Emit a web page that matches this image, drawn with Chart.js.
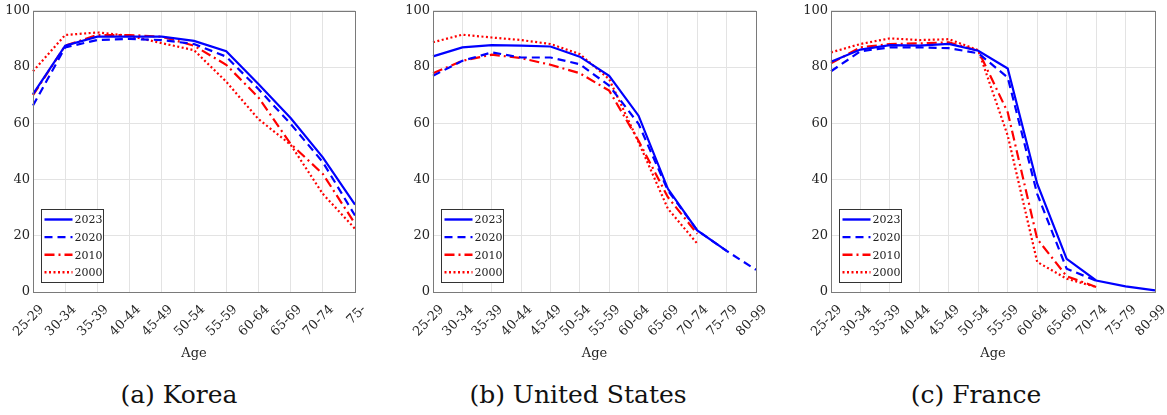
<!DOCTYPE html>
<html>
<head>
<meta charset="utf-8">
<script src="https://cdn.jsdelivr.net/npm/chart.js@4.4.0/dist/chart.umd.min.js"></script>
<style>
  body { margin: 0; background: #fff; width: 1167px; height: 415px; position: relative; overflow: hidden; }
  .panel { position: absolute; top: 0; height: 365px; }
  .cap { position: absolute; top: 380px; font-family: "DejaVu Serif", serif; font-size: 25px; color: #111; text-align: center; white-space: nowrap; }
</style>
</head>
<body>
<div class="panel" style="left:0px;width:370px"><canvas id="korea"></canvas></div>
<div class="panel" style="left:395px;width:375px"><canvas id="us"></canvas></div>
<div class="panel" style="left:790px;width:377px"><canvas id="france"></canvas></div>
<div class="cap" style="left:79px;width:200px">(a) Korea</div>
<div class="cap" style="left:428px;width:300px">(b) United States</div>
<div class="cap" style="left:876px;width:200px">(c) France</div>
<script>
// age groups
const ageKorea = ['25-29', '30-34', '35-39', '40-44', '45-49', '50-54', '55-59', '60-64', '65-69', '70-74', '75-'];
const ageLong = ['25-29', '30-34', '35-39', '40-44', '45-49', '50-54', '55-59', '60-64', '65-69', '70-74', '75-79', '80-99'];
const years = ['2023', '2020', '2010', '2000'];
const yTicks = [0, 20, 40, 60, 80, 100];

// Korea
const korea2023 = [70.4, 87.6, 90.8, 90.8, 90.8, 89.3, 85.6, 74.0, 61.9, 47.9, 31.1];
const korea2020 = [66.3, 87.0, 89.6, 90.0, 89.6, 88.2, 83.7, 72.2, 59.8, 46.2, 27.2];
const korea2010 = [70.0, 87.6, 91.4, 91.4, 90.8, 87.6, 80.8, 69.2, 52.7, 42.0, 24.3];
const korea2000 = [78.5, 91.4, 92.3, 91.1, 88.5, 86.0, 74.8, 61.5, 52.4, 34.9, 22.5];

// United States
const us2023 = [83.8, 87.0, 87.8, 87.6, 87.3, 83.7, 76.9, 62.7, 36.7, 21.9, 14.6, null];
const us2020 = [76.9, 82.2, 85.2, 83.4, 83.4, 81.0, 73.4, 59.8, 36.1, 21.9, 14.6, 7.9];
const us2010 = [77.8, 82.2, 84.4, 83.2, 80.8, 77.8, 71.6, 53.8, 33.7, 20.7, null, null];
const us2000 = [88.8, 91.5, 90.5, 89.6, 88.2, 84.6, 75.7, 53.3, 29.6, 17.2, null, null];

// France
const france2023 = [81.9, 86.2, 87.8, 87.6, 88.2, 85.8, 79.5, 38.5, 11.8, 4.1, 2.0, 0.6];
const france2020 = [78.5, 85.6, 87.0, 87.0, 86.7, 84.9, 76.3, 34.9, 8.3, 4.0, null, null];
const france2010 = [81.3, 87.0, 88.2, 88.4, 88.8, 85.8, 63.9, 18.9, 5.6, 1.8, null, null];
const france2000 = [85.2, 88.2, 90.2, 89.6, 89.9, 86.0, 55.6, 10.7, 4.7, 1.8, null, null];

const lineColors = ['#0000ff', '#0000ff', '#ff0000', '#ff0000'];
const lineDashes = [[], [8, 5], [10, 4, 2, 4], [2, 2.5]];
const serif = '"DejaVu Serif", serif';

// axes box + legend inside lower left
const boxAndLegend = {
  id: 'boxAndLegend',
  afterDraw(chart) {
    const c = chart.ctx;
    const a = chart.chartArea;
    c.save();
    c.strokeStyle = '#7a7a7a';
    c.lineWidth = 1;
    c.strokeRect(Math.round(a.left) + 0.5, Math.round(a.top) + 0.5, Math.round(a.right - a.left), Math.round(a.bottom - a.top));

    const lx = Math.round(a.left + 8) + 0.5;
    const ly = Math.round(a.bottom - 83) + 0.5;
    c.fillStyle = '#fff';
    c.fillRect(lx, ly, 62, 73);
    c.strokeStyle = '#333';
    c.strokeRect(lx, ly, 62, 73);
    c.font = '11px ' + serif;
    c.textBaseline = 'middle';
    chart.data.datasets.forEach((ds, i) => {
      const yy = ly + 10 + i * 17.6;
      c.beginPath();
      c.setLineDash(ds.borderDash);
      c.strokeStyle = ds.borderColor;
      c.lineWidth = 2.4;
      c.moveTo(lx + 3, yy);
      c.lineTo(lx + 31, yy);
      c.stroke();
      c.setLineDash([]);
      c.fillStyle = '#222';
      c.fillText(ds.label, lx + 33, yy + 1);
    });
    c.restore();
  }
};

function makePanel(id, labels, series, yWidth, rightPad) {
  new Chart(document.getElementById(id), {
    type: 'line',
    data: {
      labels: labels,
      datasets: series.map((s, i) => ({
        label: years[i],
        data: s,
        borderColor: lineColors[i],
        borderDash: lineDashes[i],
        borderWidth: 2.2,
        pointRadius: 0,
        tension: 0,
        fill: false,
        spanGaps: false
      }))
    },
    options: {
      animation: false,
      responsive: true,
      maintainAspectRatio: false,
      layout: { padding: { top: 10, right: rightPad, left: 0, bottom: 0 } },
      plugins: { legend: { display: false }, tooltip: { enabled: false } },
      scales: {
        x: {
          offset: false,
          grid: { color: '#e3e3e3', drawTicks: false },
          border: { display: false },
          ticks: { font: { family: serif, size: 13 }, color: '#262626', minRotation: 45, maxRotation: 45, padding: 10, labelOffset: 9, autoSkip: false },
          title: { display: true, text: 'Age', font: { family: serif, size: 13 }, color: '#262626', padding: { top: 4, bottom: 4 } },
          afterFit(scale) { scale.height = 73; scale.paddingLeft = 0; scale.paddingRight = 0; }
        },
        y: {
          min: 0,
          max: 100,
          afterBuildTicks(scale) { scale.ticks = yTicks.map(v => ({ value: v })); },
          grid: { color: '#e3e3e3', drawTicks: false },
          border: { display: false },
          ticks: { font: { family: serif, size: 13 }, color: '#262626', padding: 3 },
          afterFit(scale) { scale.width = yWidth; }
        }
      }
    },
    plugins: [boxAndLegend]
  });
}

makePanel('korea', ageKorea, [korea2023, korea2020, korea2010, korea2000], 33, 15);
makePanel('us', ageLong, [us2023, us2020, us2010, us2000], 38, 14);
makePanel('france', ageLong, [france2023, france2020, france2010, france2000], 41, 12);
</script>
</body>
</html>
